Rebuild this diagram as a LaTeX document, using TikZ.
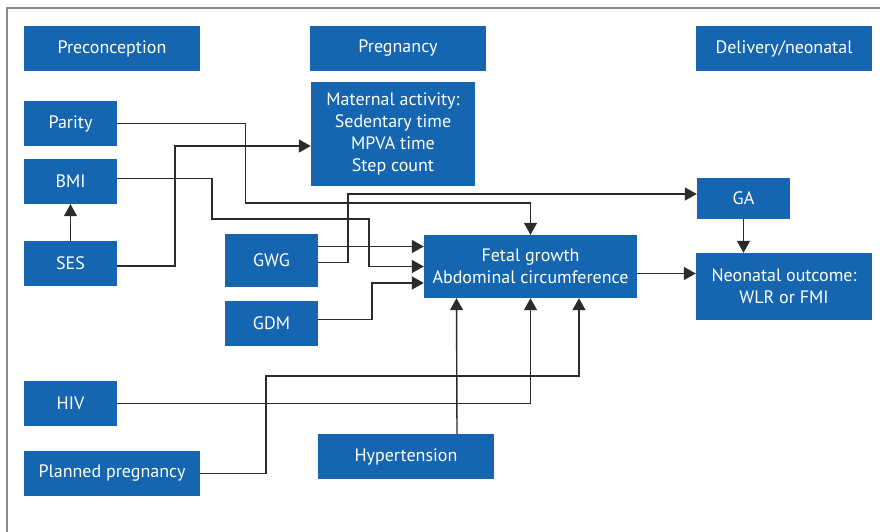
\documentclass[tikz,border=0pt]{standalone}
\usepackage{fontspec}
\setmainfont{PT Sans}
\usetikzlibrary{arrows.meta,positioning,calc}
\definecolor{PathBlue}{HTML}{1565B0}
\definecolor{PathLine}{HTML}{2B2B2B}
\definecolor{PathFrame}{HTML}{8A8A8A}
\tikzset{
  factor/.style={fill=PathBlue, text=white, inner sep=0pt, align=center,
                 minimum width=93pt, minimum height=45pt},
  phase/.style={factor, minimum width=176pt},
  link/.style={-{Triangle[length=12pt,width=13pt]}, line width=1.4pt, draw=PathLine},
  frame/.style={line width=1.2pt, draw=PathFrame},
}
\begin{document}
\begin{tikzpicture}[x=1pt,y=-1pt,font=\fontsize{18}{22}\selectfont]
    \useasboundingbox (0,0) rectangle (880,532);
    \draw[frame] (7,532) -- (7,8) -- (880,8);
    % time periods
    \node[phase] (pre) at (112,48.5) {Preconception};
    \node[phase] (preg) at (398,48.5) {Pregnancy};
    \node[phase] (deliv) at (784,48.5) {Delivery/neonatal};
    % exposures
    \node[factor] (parity) at (70.5,123.5) {Parity};
    \node[factor] (bmi) at (70.5,181.5) {BMI};
    \node[factor] (ses) at (70.5,263.5) {SES};
    \node[factor] (hiv) at (70.5,403.5) {HIV};
    \node[phase] (plan) at (112,473.5) {Planned pregnancy};
    \node[factor,minimum width=164pt,minimum height=104pt] (mat) at (393,134)
        {Maternal activity:\\Sedentary time\\MPVA time\\Step count};
    \node[factor,minimum height=53pt] (gwg) at (271.5,260.5) {GWG};
    \node[factor] (gdm) at (271.5,323.5) {GDM};
    \node[phase] (hyp) at (406,456.5) {Hypertension};
    \node[factor,minimum width=213pt,minimum height=63pt] (fetal) at (530.5,266.5)
        {Fetal growth\\Abdominal circumference};
    \node[factor,minimum height=41pt] (ga) at (743.5,198) {GA};
    \node[phase,minimum height=67pt] (neo) at (784,286.5) {Neonatal outcome:\\WLR or FMI};
    % connectors
    \draw[link] (parity.east) -| (245.5,203) -| (fetal.north);
    \draw[link] ([yshift=3pt]bmi.east) -| (212,219) -| (369,266.5) -- (fetal.west);
    \draw[link] ([yshift=-2.5pt]ses.east) -| (175,146) -- ([yshift=-12pt]mat.west);
    \draw[link] (bmi.north |- ses.north) -- (bmi.south);
    \draw[link] ([yshift=14pt]gwg.east) -- ([yshift=14pt]gwg.east -| fetal.west);
    \draw[link] ([yshift=-2pt]gwg.east) -| (348,194) -- ([yshift=4pt]ga.west);
    \draw[link] ([yshift=4pt]gdm.east) -| (372,283) -- ([yshift=-16.5pt]fetal.west);
    \draw[link] ([yshift=-7pt]fetal.east) -- ([yshift=-7pt]fetal.east -| neo.west);
    \draw[link] (ga.south) -- (ga.south |- neo.north);
    \draw[link] ([xshift=51pt]hyp.north) -- ([xshift=-74pt]fetal.south);
    \draw[link] (hiv.east) -| (fetal.south);
    \draw[link] (plan.east) -| (266,376) -| ([xshift=48.5pt]fetal.south);
\end{tikzpicture}
\end{document}
